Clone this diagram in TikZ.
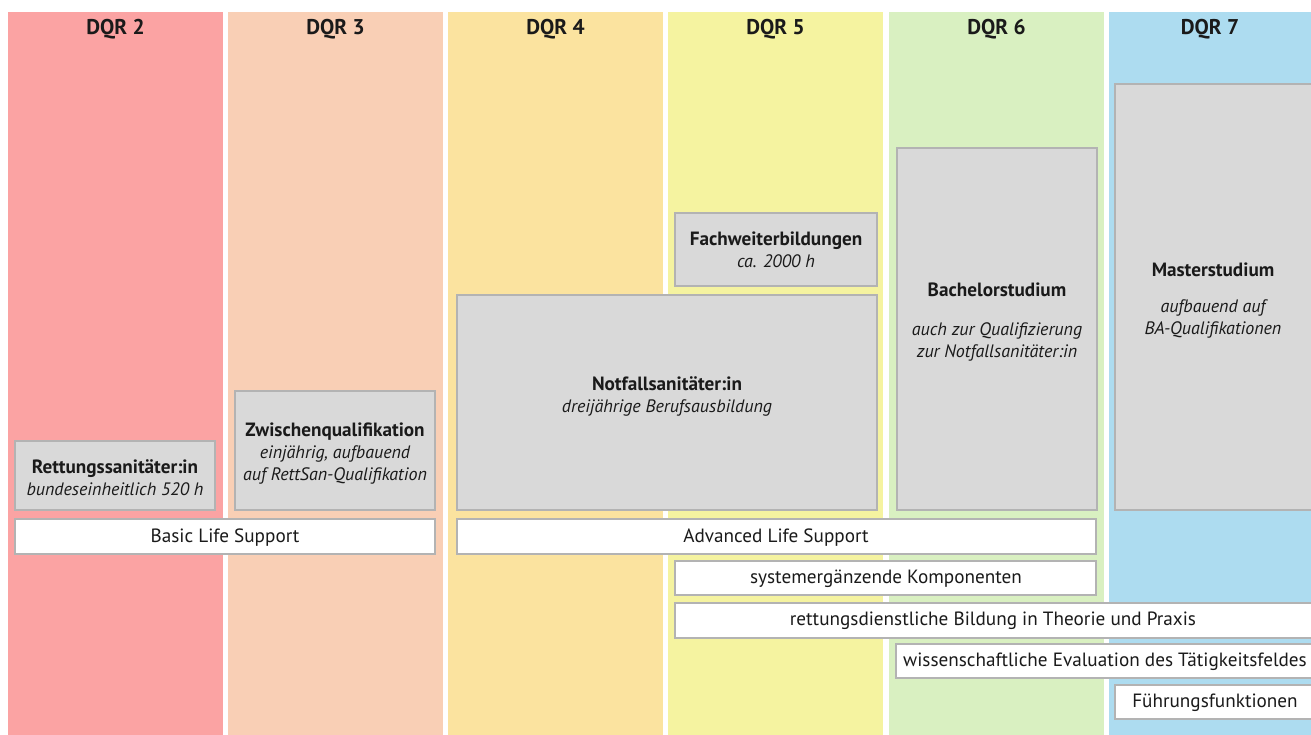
\documentclass[tikz,border=0pt]{standalone}
\usepackage{fontspec}
\setmainfont{PT Sans}
\usetikzlibrary{fit}
\definecolor{cA}{HTML}{FBA3A3}
\definecolor{cB}{HTML}{F9CFB5}
\definecolor{cC}{HTML}{FBE39F}
\definecolor{cD}{HTML}{F5F3A0}
\definecolor{cE}{HTML}{D9F0C1}
\definecolor{cF}{HTML}{ADDCF0}
\definecolor{boxgray}{HTML}{D9D9D9}
\definecolor{edgegray}{HTML}{B3B3B3}
\definecolor{txt}{HTML}{1A1A1A}
\newcommand{\ttl}[1]{{\fontsize{14.4}{16}\selectfont\bfseries #1}}
\newcommand{\itl}[1]{{\fontsize{13.5}{16}\selectfont\itshape #1}}
\begin{document}
\begin{tikzpicture}[x=0.75pt,y=-0.75pt,
  col/.style={inner sep=0pt, outer sep=0pt, draw=none},
  gbox/.style={fill=boxgray, draw=edgegray, line width=1pt, inner sep=0pt, outer sep=0pt},
  wbox/.style={fill=white, draw=edgegray, line width=1pt, inner sep=0pt, outer sep=0pt},
  head/.style={font=\fontsize{16}{18}\selectfont\bfseries, text=txt},
  lbl/.style={font=\fontsize{14.4}{16.5}\selectfont, text=txt, align=center, inner sep=0pt},
]
\useasboundingbox (0,0) rectangle (1311,735);
\begin{scope}
\clip (0,0) rectangle (1311,735);
% columns
\node[col, fill=cA, fit={(8,12) (223,735)}] (c2) {};
\node[col, fill=cB, fit={(228,12) (443,735)}] (c3) {};
\node[col, fill=cC, fit={(448,12) (663,735)}] (c4) {};
\node[col, fill=cD, fit={(668,12) (883,735)}] (c5) {};
\node[col, fill=cE, fit={(889,12) (1104,735)}] (c6) {};
\node[col, fill=cF, fit={(1109,12) (1330,735)}] (c7) {};
\node[head] (h2) at (115.5,29) {DQR 2};
\node[head] (h3) at (335.5,29) {DQR 3};
\node[head] (h4) at (555.5,29) {DQR 4};
\node[head] (h5) at (775.5,29) {DQR 5};
\node[head] (h6) at (996.5,29) {DQR 6};
\node[head] (h7) at (1210,29) {DQR 7};
% grey boxes
\node[gbox, fit={(15,441) (215,510)}] (rett) {};
\node[gbox, fit={(235,391) (435,510)}] (zwis) {};
\node[gbox, fit={(675,213) (877,286)}] (fach) {};
\node[gbox, fit={(457,295) (877,510)}] (notf) {};
\node[gbox, fit={(897,148) (1097,510)}] (bach) {};
\node[gbox, fit={(1115,84) (1325,510)}] (mast) {};
% white bars
\node[wbox, fit={(15,519) (435,554)}] (bls) {};
\node[wbox, fit={(457,519) (1096,554)}] (als) {};
\node[wbox, fit={(675,561) (1096,595)}] (sys) {};
\node[wbox, fit={(675,603) (1325,638)}] (rdb) {};
\node[wbox, fit={(896,644) (1325,678)}] (wiss) {};
\node[wbox, fit={(1115,685) (1325,719)}] (fuehr) {};
% texts
\node[lbl] (trett) at (115,478) {\ttl{Rettungssanitäter:in}\\\itl{bundeseinheitlich 520 h}};
\node[lbl] (tzwis) at (335,454) {\ttl{Zwischenqualifikation}\\\itl{einjährig, aufbauend}\\\itl{auf RettSan-Qualifikation}};
\node[lbl] (tfach) at (776,250) {\ttl{Fachweiterbildungen}\\\itl{ca. 2000 h}};
\node[lbl] (tnotf) at (667,396) {\ttl{Notfallsanitäter:in}\\\itl{dreijährige Berufsausbildung}};
\node[lbl] (tbach1) at (997,290) {\ttl{Bachelorstudium}};
\node[lbl] (tbach2) at (997,342) {\itl{auch zur Qualifizierung}\\\itl{zur Notfallsanitäter:in}};
\node[lbl] (tmast1) at (1213,270) {\ttl{Masterstudium}};
\node[lbl] (tmast2) at (1213,319) {\itl{aufbauend auf}\\\itl{BA-Qualifikationen}};
\node[lbl] (tbls) at (225,538) {Basic Life Support};
\node[lbl] (tals) at (776,538) {Advanced Life Support};
\node[lbl] (tsys) at (886,579) {systemergänzende Komponenten};
\node[lbl] (trdb) at (993,621) {rettungsdienstliche Bildung in Theorie und Praxis};
\node[lbl] (twiss) at (1105,662) {wissenschaftliche Evaluation des Tätigkeitsfeldes};
\node[lbl] (tfuehr) at (1215,703) {Führungsfunktionen};
\end{scope}
\end{tikzpicture}
\end{document}
